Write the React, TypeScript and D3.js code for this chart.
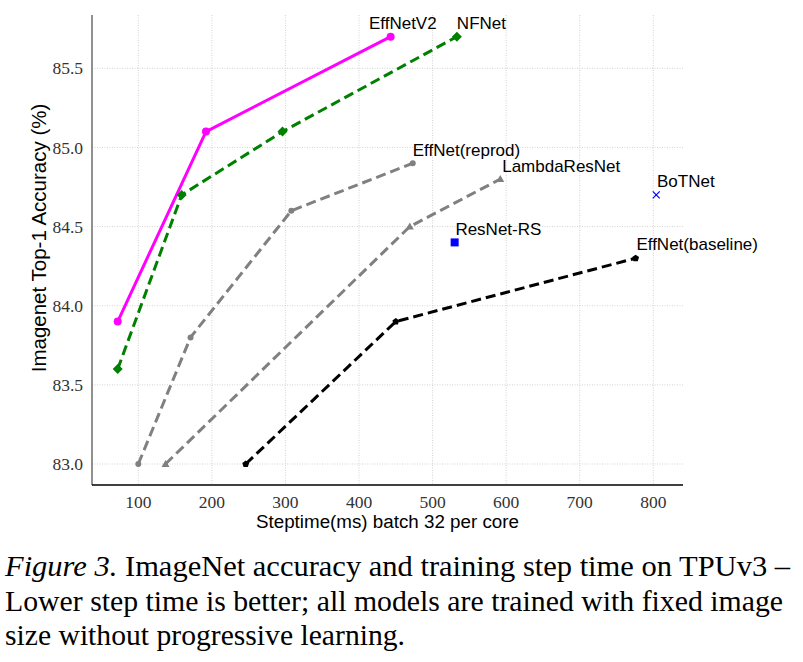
import React from "react";
import * as d3 from "d3";

const xTicks = [100, 200, 300, 400, 500, 600, 700, 800];
const yTicks = [83.0, 83.5, 84.0, 84.5, 85.0, 85.5];

const effNetV2X = [72, 192, 443];
const effNetV2Y = [83.9, 85.1, 85.7];
const nfNetX = [72, 159, 296, 533];
const nfNetY = [83.6, 84.7, 85.1, 85.7];
const effReprodX = [100, 171, 308, 473];
const effReprodY = [83.0, 83.8, 84.6, 84.9];
const lambdaX = [137, 469, 592];
const lambdaY = [83.0, 84.5, 84.8];
const effBaseX = [246, 450, 776];
const effBaseY = [83.0, 83.9, 84.3];
const resNetRSX = [530];
const resNetRSY = [84.4];
const boTNetX = [804];
const boTNetY = [84.7];

const labelNames = ["EffNetV2", "NFNet", "EffNet(reprod)", "LambdaResNet", "BoTNet", "ResNet-RS", "EffNet(baseline)"];
const labelX = [413.5, 533, 473, 594.6, 805, 531, 777];
const labelY = [85.748, 85.748, 84.946, 84.845, 84.75, 84.447, 84.352];

const captionLines = [
  "ImageNet accuracy and training step time on TPUv3 \u2013",
  "Lower step time is better; all models are trained with fixed image",
  "size without progressive learning.",
];

const W = 803;
const H = 662;
const left = 92;
const right = 683;
const top = 15;
const bottom = 485;

export default function App() {
  const x = d3.scaleLinear().domain([100, 800]).range([138.3, 653.3]);
  const y = d3.scaleLinear().domain([83, 85.5]).range([464, 68.3]);
  const line = d3.line<[number, number]>().x((d) => x(d[0])).y((d) => y(d[1]));
  const pts = (xs: number[], ys: number[]) => xs.map((v, i) => [v, ys[i]] as [number, number]);

  const series = [
    { xs: effNetV2X, ys: effNetV2Y, color: "#ff00ff", dash: null, marker: "circle", r: 4 },
    { xs: nfNetX, ys: nfNetY, color: "#008000", dash: "10,5", marker: "diamond", r: 5 },
    { xs: effReprodX, ys: effReprodY, color: "#808080", dash: "10,5", marker: "circle", r: 3 },
    { xs: lambdaX, ys: lambdaY, color: "#808080", dash: "10,5", marker: "triangle", r: 4 },
    { xs: effBaseX, ys: effBaseY, color: "#000000", dash: "10,5", marker: "pentagon", r: 3.6 },
  ];

  const marker = (type: string, cx: number, cy: number, r: number, color: string, key: string) => {
    if (type === "circle") return <circle key={key} cx={cx} cy={cy} r={r} fill={color} />;
    if (type === "diamond")
      return (
        <path key={key} d={`M${cx},${cy - r} L${cx + r},${cy} L${cx},${cy + r} L${cx - r},${cy} Z`} fill={color} />
      );
    if (type === "triangle")
      return (
        <path key={key} d={`M${cx},${cy - r} L${cx + r},${cy + r * 0.75} L${cx - r},${cy + r * 0.75} Z`} fill={color} />
      );
    if (type === "pentagon") {
      const p = d3.range(5).map((i) => {
        const a = -Math.PI / 2 + (i * 2 * Math.PI) / 5;
        return `${cx + r * Math.cos(a)},${cy + r * Math.sin(a)}`;
      });
      return <polygon key={key} points={p.join(" ")} fill={color} />;
    }
    return null;
  };

  const tickFont = "'Liberation Serif', 'Times New Roman', serif";
  const sans = "'Liberation Sans', Arial, sans-serif";

  return (
    <svg width={W} height={H} style={{ position: "absolute", left: 0, top: 0, background: "#fff" }}>
      <rect width={W} height={H} fill="#fff" />
      {/* grid */}
      {xTicks.map((t) => (
        <line key={"gx" + t} x1={x(t)} x2={x(t)} y1={top} y2={bottom} stroke="#c8c8c8" strokeWidth={0.8} strokeDasharray="1,1.5" />
      ))}
      {yTicks.map((t) => (
        <line key={"gy" + t} x1={left} x2={right} y1={y(t)} y2={y(t)} stroke="#c8c8c8" strokeWidth={0.8} strokeDasharray="1,1.5" />
      ))}
      {/* spines */}
      <line x1={left} x2={left} y1={top} y2={bottom} stroke="#555" strokeWidth={1.3} />
      <line x1={left} x2={right} y1={bottom} y2={bottom} stroke="#000" strokeWidth={1.3} />
      {/* tick labels */}
      {xTicks.map((t) => (
        <text key={"tx" + t} x={x(t)} y={507.5} textAnchor="middle" fontFamily={tickFont} fontSize={17.5} fill="#333">
          {t}
        </text>
      ))}
      {yTicks.map((t) => (
        <text key={"ty" + t} x={83} y={y(t)} dy="0.35em" textAnchor="end" fontFamily={tickFont} fontSize={17.5} fill="#333">
          {t.toFixed(1)}
        </text>
      ))}
      {/* axis labels */}
      <text x={(left + right) / 2} y={528} textAnchor="middle" fontFamily={sans} fontSize={18.8} fill="#000">
        Steptime(ms) batch 32 per core
      </text>
      <text transform={`translate(46,238) rotate(-90)`} textAnchor="middle" fontFamily={sans} fontSize={20.5} fill="#000">
        Imagenet Top-1 Accuracy (%)
      </text>
      {/* series */}
      {series.map((s, i) => (
        <g key={"s" + i}>
          <path
            d={line(pts(s.xs, s.ys)) || ""}
            fill="none"
            stroke={s.color}
            strokeWidth={3}
            strokeDasharray={s.dash || undefined}
          />
          {s.xs.map((v, j) => marker(s.marker, x(v), y(s.ys[j]), s.r, s.color, `m${i}-${j}`))}
        </g>
      ))}
      {/* ResNet-RS */}
      {resNetRSX.map((v, i) => (
        <rect key={"rs" + i} x={x(v) - 4} y={y(resNetRSY[i]) - 4} width={8} height={8} fill="#0000ff" />
      ))}
      {/* BoTNet */}
      {boTNetX.map((v, i) => {
        const cx = x(v);
        const cy = y(boTNetY[i]);
        return (
          <g key={"bt" + i} stroke="#0000ff" strokeWidth={1.2}>
            <line x1={cx - 3.5} y1={cy - 3.5} x2={cx + 3.5} y2={cy + 3.5} />
            <line x1={cx - 3.5} y1={cy + 3.5} x2={cx + 3.5} y2={cy - 3.5} />
          </g>
        );
      })}
      {/* labels */}
      {labelNames.map((n, i) => (
        <text key={"l" + i} x={x(labelX[i])} y={y(labelY[i])} fontFamily={sans} fontSize={17} fill="#000">
          {n}
        </text>
      ))}
      {/* caption */}
      <text x={5} y={576} fontFamily={tickFont} fontSize={29} fill="#000" textLength={785} lengthAdjust="spacingAndGlyphs">
        <tspan fontStyle="italic">Figure 3.</tspan> {captionLines[0]}
      </text>
      <text x={5} y={611} fontFamily={tickFont} fontSize={29} fill="#000" textLength={778} lengthAdjust="spacingAndGlyphs">
        {captionLines[1]}
      </text>
      <text x={5} y={645} fontFamily={tickFont} fontSize={29} fill="#000" textLength={400} lengthAdjust="spacingAndGlyphs">
        {captionLines[2]}
      </text>
    </svg>
  );
}
